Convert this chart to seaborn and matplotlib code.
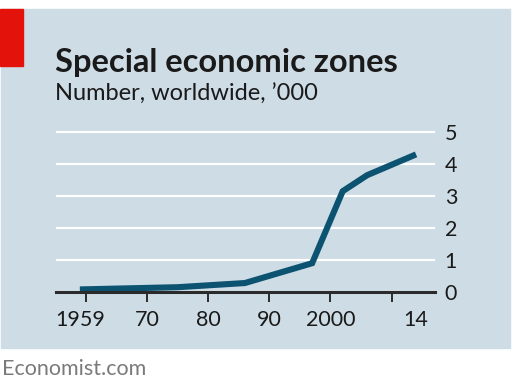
"""
Special economic zones, worldwide ('000)
Economist-style line chart
"""

import matplotlib.pyplot as plt
import matplotlib.ticker as mticker
from matplotlib.patches import Rectangle
import seaborn as sns

# ── data ────────────────────────────────────────────────────────────────────
years = [1959, 1975, 1986, 1997, 2002, 2006, 2014]
zones = [0.08, 0.15, 0.28, 0.9, 3.15, 3.65, 4.3]

label_years = [1959, 1970, 1980, 1990, 2000, 2014]
label_text = ["1959", "70", "80", "90", "2000", "14"]
decades = [1960, 1970, 1980, 1990, 2000, 2010]
all_years = list(range(1959, 2015))
y_ticks = [0, 1, 2, 3, 4, 5]

# ── style ───────────────────────────────────────────────────────────────────
BG = "#cedce5"
LINE = "#0b5370"
RED = "#e3120b"
INK = "#1a1a1a"

sns.set_style("white", {"axes.facecolor": BG})
plt.rcParams["font.family"] = ["Lato", "DejaVu Sans"]

W, H = 512, 384
fig = plt.figure(figsize=(W / 100, H / 100), dpi=100)
fig.patch.set_facecolor("white")

# background panel + red flag
fig.patches.append(Rectangle((1 / W, 1 - 348 / H), 509 / W, 339 / H,
                             transform=fig.transFigure, color=BG, zorder=-2))
fig.patches.append(Rectangle((0, 1 - 66 / H), 23 / W, 57 / H,
                             transform=fig.transFigure, color=RED, zorder=-1))

# titles
fig.text(55 / W, 1 - 72 / H, "Special economic zones", fontsize=23.5,
         fontweight="bold", color=INK, va="baseline")
fig.text(55 / W, 1 - 101 / H, "Number, worldwide, \u2019000", fontsize=17,
         color=INK, va="baseline")
fig.text(2 / W, 1 - 375 / H, "Economist.com", fontsize=15.5,
         color="#7a7a7a", va="baseline")

# ── axes ────────────────────────────────────────────────────────────────────
ymax = 5.2
ax = fig.add_axes([56 / W, (H - 292) / H, 379 / W, ymax * 32 / H])
ax.set_facecolor(BG)

sns.lineplot(x=years, y=zones, ax=ax, color=LINE, linewidth=4.4,
             solid_joinstyle="miter", solid_capstyle="butt", zorder=3)

ax.set_xlim(1955.1, 2017.1)
ax.set_ylim(0, ymax)

# gridlines
ax.set_yticks(y_ticks)
ax.yaxis.grid(True, color="white", linewidth=1.6)
ax.set_axisbelow(True)
ax.yaxis.tick_right()
ax.tick_params(axis="y", length=0, pad=7, labelsize=15.5, labelcolor=INK)

for side in ["top", "left", "right"]:
    ax.spines[side].set_visible(False)
ax.spines["bottom"].set_color("#2b2b2b")
ax.spines["bottom"].set_linewidth(2.2)
ax.spines["bottom"].set_zorder(4)

# x labels (no tick) + yearly minor ticks
ax.set_xticks(label_years, labels=label_text)
ax.xaxis.set_minor_locator(mticker.FixedLocator(all_years))
ax.tick_params(axis="x", which="major", length=0, pad=13,
               labelsize=15.5, labelcolor=INK)
ax.tick_params(axis="x", which="minor", length=4, width=1.1,
               color="#2b2b2b", direction="out")

# longer decade ticks
sec = ax.secondary_xaxis("bottom")
sec.set_xticks(decades, labels=[])
sec.tick_params(axis="x", length=7, width=1.4, color="#2b2b2b")
sec.spines["bottom"].set_visible(False)

ax.set_xlabel(""); ax.set_ylabel("")

plt.savefig("out.png", dpi=100, facecolor="white")
plt.close()
